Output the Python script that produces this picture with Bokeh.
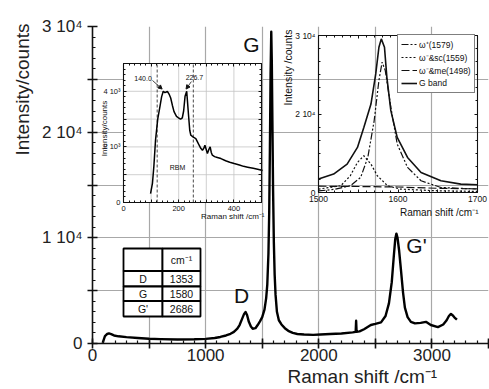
import numpy as np
from bokeh.plotting import figure
from bokeh.models import (Range1d, LinearAxis, FixedTicker, Label, Legend, LegendItem,
                          Arrow, NormalHead, Title)
from bokeh.embed import file_html
from bokeh.resources import INLINE
from bokeh.core.properties import value

# ---------------- data ----------------
# main Raman spectrum
RAMAN_SHIFT = [90, 110, 130, 145, 165, 190, 230, 300, 400, 500, 600, 750, 900, 1000, 1080,
               1130, 1180, 1220, 1250, 1280, 1300, 1323, 1340, 1353, 1366, 1382, 1400, 1416,
               1440, 1460, 1480, 1500, 1520, 1535, 1545, 1555, 1562, 1568, 1574, 1580, 1585,
               1590, 1596, 1603, 1610, 1618, 1630, 1647, 1670, 1700, 1730, 1770, 1810, 1870,
               1950, 2015, 2100, 2200, 2300, 2326, 2330, 2334, 2360, 2400, 2460, 2500, 2550,
               2590, 2620, 2645, 2664, 2676, 2686, 2696, 2710, 2726, 2745, 2761, 2785, 2814,
               2850, 2900, 2947, 2990, 3053, 3100, 3130, 3150, 3168, 3185, 3200, 3221]
INTENSITY = [50, 700, 900, 950, 880, 760, 680, 600, 520, 450, 410, 380, 400, 440, 520,
             620, 760, 920, 1100, 1400, 1750, 2350, 2800, 2980, 2700, 2050, 1600, 1400,
             1450, 1750, 2100, 2500, 3200, 4300, 5600, 8500, 12500, 18500, 25500, 29500, 26500,
             21000, 14500, 9500, 6500, 4600, 3000, 2200, 1800, 1450, 1200, 1000, 900, 850,
             820, 850, 900, 950, 1050, 1100, 2150, 1100, 1150, 1350, 1750, 1850, 2000,
             2600, 3800, 5800, 8400, 9900, 10400, 10000, 8800, 7000, 4800, 3400, 2500, 2050,
             1900, 1950, 2050, 1750, 1550, 1800, 2200, 2600, 2800, 2650, 2450, 2250]
PEAK_NAMES = ["D", "G", "G'"]
PEAK_SHIFTS = ["1353", "1580", "2686"]
TABLE_HEADER = ["", "cm⁻¹"]

MAIN_X_TICKS = [0, 500, 1000, 1500, 2000, 2500, 3000, 3500]
MAIN_X_LABELS = ["0", "", "1000", "", "2000", "", "3000", ""]
MAIN_Y_TICKS = [0, 5000, 10000, 15000, 20000, 25000, 30000]
MAIN_Y_LABELS = ["0", "", "1 10⁴", "", "2 10⁴", "", "3 10⁴"]

# RBM inset
RBM_SHIFT = [98, 105, 110, 116, 124, 132, 138, 144, 150, 159, 165, 171, 177, 183, 192, 201,
             207, 213, 218, 223, 229, 235, 240, 244, 253, 262, 268, 274, 280, 286, 291, 295,
             300, 304, 309, 314, 318, 322, 330, 340, 353, 370, 385, 401, 420, 435, 450, 470,
             490, 504]
RBM_INTENSITY = [316, 700, 1300, 2240, 3000, 3450, 3800, 4000, 3950, 4000, 3900, 3760, 3500,
                 3270, 3100, 3030, 3000, 3040, 3300, 3820, 4000, 3220, 2600, 2420, 2350, 2300,
                 2180, 2060, 1950, 1880, 1950, 2060, 1900, 1760, 1900, 2000, 1800, 1700, 1650,
                 1620, 1580, 1500, 1450, 1400, 1350, 1300, 1270, 1230, 1190, 1150]
RBM_MARKERS = [122, 253]
RBM_PEAKS = [140.0, 226.7]
RBM_PEAK_LABELS = ["140.0", "226.7"]
RBM_X_TICKS = [0, 100, 200, 300, 400, 500]
RBM_X_LABELS = ["0", "", "200", "", "400", ""]
RBM_Y_TICKS = [0, 1000, 2000, 3000, 4000, 5000]
RBM_Y_LABELS = ["0", "", "2 10³", "", "4 10³", ""]

# G band fit inset
GBAND_X = [1500, 1519, 1536, 1549, 1557, 1566, 1572, 1576, 1579, 1583, 1586, 1591, 1599,
           1612, 1629, 1654, 1679, 1700]
GBAND_Y = [2560, 3520, 5430, 8620, 12440, 16900, 22660, 27760, 29360, 27760, 22000, 15640,
           10530, 6700, 3830, 2240, 1600, 1470]
WPLUS_X = [1500, 1520, 1540, 1553, 1562, 1570, 1576, 1580, 1584, 1591, 1599, 1612, 1629, 1654, 1700]
WPLUS_Y = [300, 600, 1280, 2870, 6700, 13700, 21400, 24900, 23300, 16300, 9260, 4790, 2240, 960, 650]
WSC_X = [1500, 1528, 1540, 1549, 1557, 1566, 1574, 1587, 1603, 1645, 1700]
WSC_Y = [650, 1280, 3190, 5740, 7020, 5430, 3190, 1280, 650, 350, 200]
WME_X = [1500, 1550, 1600, 1650, 1700]
WME_Y = [1200, 1150, 1050, 800, 700]
FIT_NAMES = ["ω⁺(1579)", "ω⁻&sc(1559)", "ω⁻&me(1498)", "G band"]
FIT_X_TICKS = [1500, 1550, 1600, 1650, 1700]
FIT_X_LABELS = ["1500", "", "1600", "", "1700"]
FIT_Y_TICKS = [0, 15000, 30000]
FIT_Y_LABELS = ["0", "2 10⁴", "3 10⁴"]

# ---------------- layout ----------------
W, H = 489, 389
FL, FR, FT, FB = 92, 488, 26, 343
FONT = "Liberation Sans"
INK = "#111111"


def mapped_range(p_lo, p_hi, v_lo, v_hi, f_lo, f_hi):
    k = (v_hi - v_lo) / (p_hi - p_lo)
    return Range1d(start=v_lo + (f_lo - p_lo) * k, end=v_lo + (f_hi - p_lo) * k)


p = figure(width=W, height=H, x_range=Range1d(0, 3500), y_range=Range1d(0, 30000),
           output_backend="svg", toolbar_location=None,
           min_border_left=FL, min_border_right=W - FR, min_border_top=FT,
           min_border_bottom=H - FB)
p.outline_line_color = None
p.background_fill_color = "white"
p.border_fill_color = "white"

p.extra_x_ranges["px_x"] = Range1d(FL, FR)
p.extra_y_ranges["px_y"] = Range1d(FB, FT)
# inset 1 box (px): x 123..261, y 202..63
p.extra_x_ranges["x1"] = mapped_range(123, 261, 0, 500, FL, FR)
p.extra_y_ranges["y1"] = mapped_range(202, 63, 0, 5000, FB, FT)
# inset 2 box (px): x 318..477, y 192..35
p.extra_x_ranges["x2"] = mapped_range(318, 477, 1500, 1700, FL, FR)
p.extra_y_ranges["y2"] = mapped_range(192, 35, 0, 30000, FB, FT)

# main axes
xa = p.xaxis[0]
ya = p.yaxis[0]
xa.ticker = FixedTicker(ticks=MAIN_X_TICKS, minor_ticks=list(range(0, 3501, 100)))
ya.ticker = FixedTicker(ticks=MAIN_Y_TICKS, minor_ticks=list(range(0, 30001, 1000)))
xa.major_label_overrides = dict(zip(MAIN_X_TICKS, MAIN_X_LABELS))
ya.major_label_overrides = dict(zip(MAIN_Y_TICKS, MAIN_Y_LABELS))
for ax in (xa, ya):
    ax.axis_line_width = 1.6
    ax.axis_line_color = INK
    ax.major_tick_line_width = 1.6
    ax.major_tick_line_color = INK
    ax.minor_tick_line_width = 1.2
    ax.minor_tick_line_color = INK
    ax.major_tick_in = 5
    ax.major_tick_out = 5
    ax.minor_tick_in = 3
    ax.minor_tick_out = 0
    ax.major_label_text_font = FONT
    ax.major_label_text_font_size = "17px"
    ax.major_label_text_color = "#222222"
xa.major_label_standoff = 0
ya.major_label_standoff = 5

# axis titles (placed toward the axis ends, as in the reference)
p.add_layout(Title(text="Raman shift /cm⁻¹", align="left", offset=195, standoff=0,
                   text_font=FONT, text_font_size="19px", text_font_style="normal",
                   text_color="#222222"), "below")
p.add_layout(Title(text="Intensity/counts", align="right", offset=-3, standoff=14,
                   text_font=FONT, text_font_size="19px", text_font_style="normal",
                   text_color="#222222"), "left")

p.xgrid.ticker = FixedTicker(ticks=MAIN_X_TICKS)
p.ygrid.ticker = FixedTicker(ticks=MAIN_Y_TICKS)
p.grid.grid_line_color = "#a8a8a8"
p.grid.grid_line_width = 1.2

# main spectrum
p.line(RAMAN_SHIFT, INTENSITY, line_width=2.4, color="black", line_join="round")


def px_label(text, x, y, size, angle=0.0, align="center", baseline="middle"):
    p.add_layout(Label(x=x, y=y, text=text, x_range_name="px_x", y_range_name="px_y",
                       text_font=FONT, text_font_size=f"{size}px", text_align=align,
                       text_baseline=baseline, angle=angle, text_color=INK))


# peak names
for name, (lx, ly) in zip(PEAK_NAMES, [(241, 295), (251, 44), (416, 245)]):
    px_label(name, lx, ly, 21)

# table of peak positions
cols = [123, 162, 200]
rows = [248, 270.5, 286, 300.5, 316]
cl, cr, ct, cb = [], [], [], []
for r in range(4):
    for c in range(2):
        cl.append(cols[c]); cr.append(cols[c + 1]); ct.append(rows[r]); cb.append(rows[r + 1])
p.quad(left=cl, right=cr, top=ct, bottom=cb, fill_color="white", line_color="black",
       line_width=1.8, x_range_name="px_x", y_range_name="px_y")
cell_text = TABLE_HEADER + [t for pair in zip(PEAK_NAMES, PEAK_SHIFTS) for t in pair]
cx = [(cols[c] + cols[c + 1]) / 2 for r in range(4) for c in range(2)]
cy = [(rows[r] + rows[r + 1]) / 2 for r in range(4) for c in range(2)]
p.text(x=cx, y=cy, text=cell_text, text_font=value(FONT), text_font_size="10.5px",
       text_align="center", text_baseline="middle", text_color=INK,
       x_range_name="px_x", y_range_name="px_y")


def inset_axes(xr, yr, xb, yb, xt, xlab, xminor, yt, ylab, yminor, fs):
    specs = [("below", xb, yb[0], xt, xlab, xminor, True),
             ("above", xb, yb[1], xt, xlab, xminor, False),
             ("left", yb, xb[0], yt, ylab, yminor, True),
             ("right", yb, xb[1], yt, ylab, yminor, False)]
    for side, bounds, loc, ticks, labs, minor, show in specs:
        ax = LinearAxis(x_range_name=xr, y_range_name=yr, fixed_location=loc, bounds=bounds,
                        ticker=FixedTicker(ticks=ticks, minor_ticks=minor))
        ax.major_label_overrides = dict(zip(ticks, labs if show else [""] * len(ticks)))
        ax.axis_line_color = INK
        ax.axis_line_width = 1.1
        ax.major_tick_in = 3
        ax.major_tick_out = 0
        ax.minor_tick_in = 2
        ax.minor_tick_out = 0
        ax.major_tick_line_color = INK
        ax.minor_tick_line_color = INK
        ax.major_label_text_font = FONT
        ax.major_label_text_font_size = fs
        ax.major_label_text_color = INK
        ax.major_label_standoff = 3
        p.add_layout(ax, side)


# ---- inset 1: RBM ----
p.quad(left=[RBM_X_TICKS[0]], right=[RBM_X_TICKS[-1]], bottom=[RBM_Y_TICKS[0]],
       top=[RBM_Y_TICKS[-1]], fill_color="white", line_color=None,
       x_range_name="x1", y_range_name="y1")
gx = RBM_X_TICKS[1:-1]
gy = RBM_Y_TICKS[1:-1]
p.segment(x0=gx, x1=gx, y0=[RBM_Y_TICKS[0]] * len(gx), y1=[RBM_Y_TICKS[-1]] * len(gx),
          line_color="#c4c4c4", line_width=0.8, x_range_name="x1", y_range_name="y1")
p.segment(x0=[RBM_X_TICKS[0]] * len(gy), x1=[RBM_X_TICKS[-1]] * len(gy), y0=gy, y1=gy,
          line_color="#c4c4c4", line_width=0.8, x_range_name="x1", y_range_name="y1")
p.segment(x0=RBM_MARKERS, x1=RBM_MARKERS, y0=[RBM_Y_TICKS[0]] * 2, y1=[RBM_Y_TICKS[-1]] * 2,
          line_color="#333333", line_width=0.9, line_dash="3 2",
          x_range_name="x1", y_range_name="y1")
p.line(RBM_SHIFT, RBM_INTENSITY, line_width=1.5, color="black",
       x_range_name="x1", y_range_name="y1")
for pk, lab, (lx, ly), (sx, sy) in zip(RBM_PEAKS, RBM_PEAK_LABELS,
                                       [(71, 4470), (257, 4500)],
                                       [(105, 4390), (246, 4350)]):
    p.add_layout(Label(x=lx, y=ly, text=lab, x_range_name="x1", y_range_name="y1",
                       text_font=FONT, text_font_size="7px", text_align="center",
                       text_baseline="middle", text_color=INK))
    p.add_layout(Arrow(end=NormalHead(size=4, fill_color=INK, line_color=INK),
                       x_start=sx, y_start=sy, x_end=pk, y_end=4080,
                       line_width=0.8, line_color=INK, x_range_name="x1", y_range_name="y1"))
p.add_layout(Label(x=196, y=1260, text="RBM", x_range_name="x1", y_range_name="y1",
                   text_font=FONT, text_font_size="7px", text_align="center",
                   text_baseline="middle", text_color=INK))
inset_axes("x1", "y1", (0, 500), (0, 5000), RBM_X_TICKS, RBM_X_LABELS,
           list(range(0, 501, 20)), RBM_Y_TICKS, RBM_Y_LABELS,
           list(range(0, 5001, 200)), "7.5px")
px_label("Raman shift /cm⁻¹", 264, 216, 8, align="right")
px_label("Intensity/counts", 104, 128, 8, angle=np.pi / 2)

# ---- inset 2: G band fit ----
r_plus = p.line(WPLUS_X, WPLUS_Y, line_width=1.2, color=INK, line_dash="7 2 2 2 2 2",
                x_range_name="x2", y_range_name="y2")
r_sc = p.line(WSC_X, WSC_Y, line_width=1.2, color=INK, line_dash="2 2",
              x_range_name="x2", y_range_name="y2")
r_me = p.line(WME_X, WME_Y, line_width=1.2, color=INK, line_dash="8 3",
              x_range_name="x2", y_range_name="y2")
r_g = p.line(GBAND_X, GBAND_Y, line_width=1.6, color=INK,
             x_range_name="x2", y_range_name="y2")
inset_axes("x2", "y2", (1500, 1700), (0, 30000), FIT_X_TICKS, FIT_X_LABELS,
           list(range(1500, 1701, 10)), FIT_Y_TICKS, FIT_Y_LABELS,
           list(range(0, 30001, 2500)), "8.5px")
px_label("Raman shift /cm⁻¹", 478, 212, 10, align="right")
px_label("Intensity /counts", 287, 67, 10.5, angle=np.pi / 2)

legend = Legend(items=[LegendItem(label=n, renderers=[r])
                       for n, r in zip(FIT_NAMES, [r_plus, r_sc, r_me, r_g])],
                location=(397 - FL, FB - 93))
legend.label_text_font = FONT
legend.label_text_font_size = "8.5px"
legend.label_text_color = INK
legend.glyph_width = 16
legend.glyph_height = 12
legend.label_height = 12
legend.label_standoff = 2
legend.spacing = 1
legend.padding = 3
legend.margin = 0
legend.border_line_color = "black"
legend.border_line_width = 1.2
legend.background_fill_alpha = 1
p.add_layout(legend)

open("out.html", "w").write(file_html(p, INLINE))
